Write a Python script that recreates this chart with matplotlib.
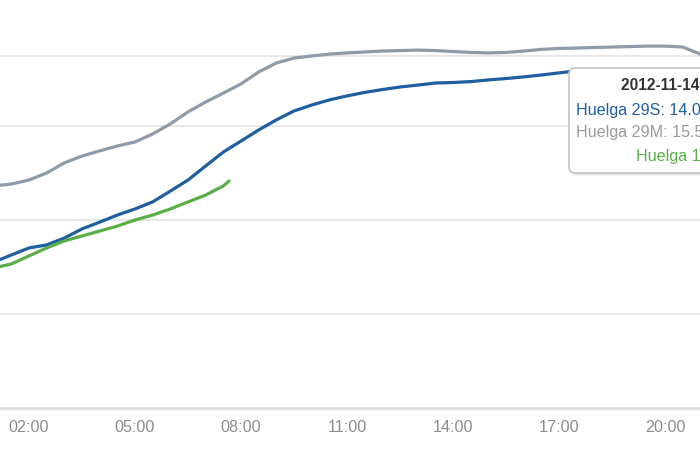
import matplotlib
matplotlib.use("Agg")
import matplotlib.pyplot as plt
from matplotlib.patches import FancyBboxPatch
from matplotlib.transforms import IdentityTransform

plt.rcParams['font.family'] = ['Liberation Sans', 'DejaVu Sans']

# ---- data ----
times_29m = ["01:00", "01:30", "02:00", "02:30", "03:00", "03:30", "04:00", "04:30",
             "05:00", "05:30", "06:00", "06:30", "07:00", "07:30", "08:00", "08:30",
             "09:00", "09:30", "10:00", "10:30", "11:00", "11:30", "12:00", "12:30",
             "13:00", "13:30", "14:00", "14:30", "15:00", "15:30", "16:00", "16:30",
             "17:00", "17:30", "18:00", "18:30", "19:00", "19:30", "20:00", "20:30",
             "21:00"]
values_29m = [9.45, 9.53, 9.70, 10.00, 10.43, 10.72, 10.94, 11.15,
              11.32, 11.66, 12.09, 12.60, 13.02, 13.40, 13.79, 14.30,
              14.68, 14.89, 14.98, 15.06, 15.11, 15.15, 15.19, 15.21,
              15.23, 15.21, 15.17, 15.13, 15.11, 15.13, 15.19, 15.26,
              15.30, 15.32, 15.34, 15.36, 15.38, 15.40, 15.40, 15.36,
              15.06]

times_29s = ["01:00", "01:30", "02:00", "02:30", "03:00", "03:30", "04:00", "04:30",
             "05:00", "05:30", "06:00", "06:30", "07:00", "07:30", "08:00", "08:30",
             "09:00", "09:30", "10:00", "10:30", "11:00", "11:30", "12:00", "12:30",
             "13:00", "13:30", "14:00", "14:30", "15:00", "15:30", "16:00", "16:30",
             "17:00", "17:20"]
values_29s = [6.21, 6.51, 6.81, 6.94, 7.23, 7.62, 7.91, 8.21,
              8.47, 8.77, 9.23, 9.70, 10.30, 10.89, 11.36, 11.83,
              12.26, 12.64, 12.89, 13.11, 13.28, 13.43, 13.55, 13.66,
              13.74, 13.83, 13.85, 13.89, 13.96, 14.02, 14.09, 14.17,
              14.26, 14.32]

times_14n = ["01:00", "01:30", "02:00", "02:30", "03:00", "03:30", "04:00", "04:30",
             "05:00", "05:30", "06:00", "06:30", "07:00", "07:30", "07:40"]
values_14n = [5.96, 6.13, 6.47, 6.81, 7.11, 7.32, 7.53, 7.74,
              8.00, 8.21, 8.47, 8.77, 9.06, 9.45, 9.66]

tick_hours = [2, 5, 8, 11, 14, 17, 20]
tick_labels = ["02:00", "05:00", "08:00", "11:00", "14:00", "17:00", "20:00"]
y_grid = [4, 8, 12, 15]

tooltip_title = "2012-11-14 17:20"
tooltip_lines = ["Huelga 29S: 14.03", "Huelga 29M: 15.54", "Huelga 14N: -"]

c_29s = "#1f5f9f"
c_29m = "#8f9ba7"
c_14n = "#5aae48"


def to_h(ts):
    out = []
    for t in ts:
        h, m = t.split(":")
        out.append(int(h) + int(m) / 60.0)
    return out


fig = plt.figure(figsize=(7, 4.5), dpi=100)
ax = fig.add_axes([0, 42 / 450, 1, 408 / 450])

for y in y_grid:
    ax.axhline(y, color="#e3e3e3", lw=1.2, zorder=1)

for ts, vs, c, z in [(times_29m, values_29m, c_29m, 3),
                     (times_29s, values_29s, c_29s, 4),
                     (times_14n, values_14n, c_14n, 5)]:
    ax.plot(to_h(ts), vs, color=c, lw=2.3, zorder=z,
            solid_capstyle="round", solid_joinstyle="round")

ax.set_xlim(1.18, 20.99)
ax.set_ylim(0, 408 / 23.5)
for s in ["top", "left", "right"]:
    ax.spines[s].set_visible(False)
ax.spines["bottom"].set_color("#dcdcdc")
ax.spines["bottom"].set_linewidth(2)
ax.set_yticks([])
ax.set_xticks(tick_hours)
ax.set_xticklabels(tick_labels)
ax.tick_params(axis="x", length=0, pad=9, labelsize=11.6, labelcolor="#8c8c8c")

# ---- tooltip ----
ident = IdentityTransform()
H = 450
for off, a in [(3, 0.04), (2, 0.06), (1, 0.08)]:
    sh = FancyBboxPatch((569 + off, H - 173 - off), 160, 105,
                        boxstyle="round,pad=0,rounding_size=6",
                        transform=ident, facecolor="black", alpha=a,
                        edgecolor="none", zorder=8)
    fig.add_artist(sh)
box = FancyBboxPatch((569, H - 173), 160, 105,
                     boxstyle="round,pad=0,rounding_size=6",
                     transform=ident, facecolor="white",
                     edgecolor="#c4c4c4", lw=1.2, zorder=9)
fig.add_artist(box)
fs = 11.6
fig.text(621, H - 86, tooltip_title, transform=ident, fontsize=11.2,
         fontweight="bold", color="#333333", va="center", ha="left", zorder=10)
fig.text(576, H - 110, tooltip_lines[0], transform=ident, fontsize=fs,
         color=c_29s, va="center", ha="left", zorder=10)
fig.text(576, H - 132, tooltip_lines[1], transform=ident, fontsize=fs,
         color="#9a9a9a", va="center", ha="left", zorder=10)
fig.text(636, H - 157, tooltip_lines[2], transform=ident, fontsize=fs,
         color=c_14n, va="center", ha="left", zorder=10)

fig.savefig("out.png", dpi=100)
